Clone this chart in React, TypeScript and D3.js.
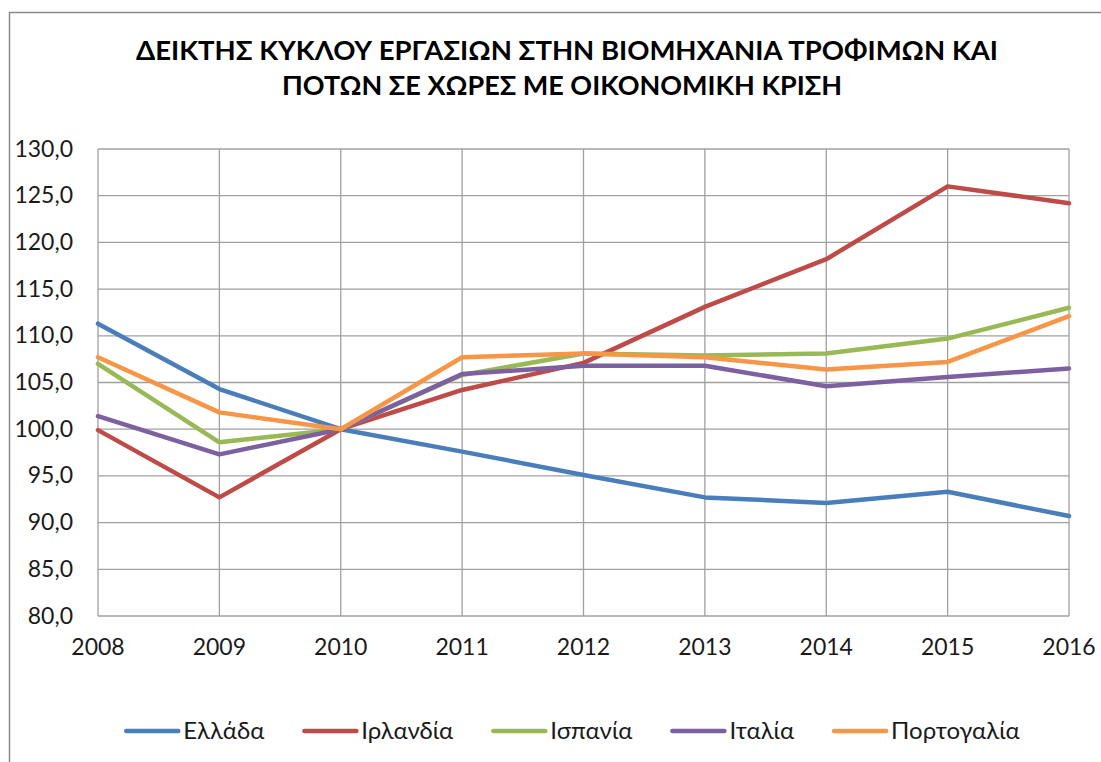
import React, { useEffect, useRef } from "react";
import * as d3 from "d3";

const years = ["2008", "2009", "2010", "2011", "2012", "2013", "2014", "2015", "2016"];
const countries = ["Ελλάδα", "Ιρλανδία", "Ισπανία", "Ιταλία", "Πορτογαλία"];
const greece = [111.3, 104.3, 100.0, 97.6, 95.1, 92.7, 92.1, 93.3, 90.7];
const ireland = [99.9, 92.7, 100.0, 104.2, 107.1, 113.1, 118.2, 126.0, 124.2];
const spain = [107.0, 98.6, 100.0, 105.8, 108.1, 107.9, 108.1, 109.7, 113.0];
const italy = [101.4, 97.3, 100.0, 105.9, 106.8, 106.8, 104.6, 105.6, 106.5];
const portugal = [107.7, 101.8, 100.0, 107.7, 108.1, 107.7, 106.4, 107.2, 112.1];
const yTicks = [80, 85, 90, 95, 100, 105, 110, 115, 120, 125, 130];
const colors = ["#4a7ebb", "#be4b48", "#98b954", "#7d60a0", "#f79646"];
const titleLines = [
  "ΔΕΙΚΤΗΣ ΚΥΚΛΟΥ ΕΡΓΑΣΙΩΝ ΣΤΗΝ ΒΙΟΜΗΧΑΝΙΑ ΤΡΟΦΙΜΩΝ ΚΑΙ",
  "ΠΟΤΩΝ ΣΕ ΧΩΡΕΣ ΜΕ ΟΙΚΟΝΟΜΙΚΗ ΚΡΙΣΗ",
];

const App = () => {
  const svgRef = useRef<SVGSVGElement>(null);

  useEffect(() => {
    const width = 1101;
    const height = 762;
    const margin = { top: 149, right: 32, bottom: 146, left: 98 };
    const font = "Lato, 'Open Sans', sans-serif";

    const svg = d3.select(svgRef.current)
      .attr("width", width)
      .attr("height", height);
    svg.selectAll("*").remove();

    // chart frame (runs off the right/bottom edge like the source screenshot)
    svg.append("rect")
      .attr("x", 9.5).attr("y", 12.5)
      .attr("width", 1200).attr("height", 900)
      .attr("fill", "white")
      .attr("stroke", "#8a8a8a")
      .attr("stroke-width", 1.5);

    // title
    const titleX = [567, 562];
    const titleW = [862, 560];
    const titleY = [60, 95];
    titleLines.forEach((t, i) => {
      svg.append("text")
        .attr("x", titleX[i]).attr("y", titleY[i])
        .attr("text-anchor", "middle")
        .attr("font-family", font)
        .attr("font-weight", "bold")
        .attr("font-size", 26)
        .attr("textLength", titleW[i])
        .attr("lengthAdjust", "spacingAndGlyphs")
        .attr("fill", "#000")
        .text(t);
    });

    const xScale = d3.scalePoint()
      .domain(years)
      .range([margin.left, width - margin.right]);

    const yScale = d3.scaleLinear()
      .domain([80, 130])
      .range([height - margin.bottom, margin.top]);

    // grid
    const grid = svg.append("g").attr("stroke", "#a0a0a0").attr("stroke-width", 1.3);
    grid.selectAll("line.h")
      .data(yTicks)
      .enter()
      .append("line")
      .attr("x1", margin.left).attr("x2", width - margin.right)
      .attr("y1", d => yScale(d)).attr("y2", d => yScale(d));
    grid.selectAll("line.v")
      .data(years)
      .enter()
      .append("line")
      .attr("x1", d => xScale(d)!).attr("x2", d => xScale(d)!)
      .attr("y1", yScale(130)).attr("y2", yScale(80));

    // axes labels
    svg.append("g")
      .selectAll("text")
      .data(yTicks)
      .enter()
      .append("text")
      .attr("x", 73)
      .attr("y", d => yScale(d) + 7.5)
      .attr("text-anchor", "end")
      .attr("font-family", font)
      .attr("font-size", 23)
      .attr("fill", "#1a1a1a")
      .text(d => d3.format(".1f")(d).replace(".", ","));

    svg.append("g")
      .selectAll("text")
      .data(years)
      .enter()
      .append("text")
      .attr("x", d => xScale(d)!)
      .attr("y", 655)
      .attr("text-anchor", "middle")
      .attr("font-family", font)
      .attr("font-size", 23)
      .attr("fill", "#1a1a1a")
      .text(d => d);

    // series
    const series = [greece, ireland, spain, italy, portugal];
    const line = d3.line<number>()
      .x((d, i) => xScale(years[i])!)
      .y(d => yScale(d));

    svg.append("g")
      .selectAll("path")
      .data(series)
      .enter()
      .append("path")
      .attr("d", d => line(d))
      .attr("fill", "none")
      .attr("stroke", (d, i) => colors[i])
      .attr("stroke-width", 4.5)
      .attr("stroke-linejoin", "round")
      .attr("stroke-linecap", "round");

    // legend
    const legend = svg.append("g");
    const symW = 52;
    const gapText = 5;
    const gapItem = 40;
    const items = countries.map((c, i) => {
      const g = legend.append("g");
      g.append("line")
        .attr("x1", 0).attr("x2", symW)
        .attr("y1", 731).attr("y2", 731)
        .attr("stroke", colors[i])
        .attr("stroke-width", 4.5)
        .attr("stroke-linecap", "round");
      const txt = g.append("text")
        .attr("x", symW + gapText)
        .attr("y", 739)
        .attr("font-family", font)
        .attr("font-size", 24)
        .attr("fill", "#1a1a1a")
        .text(c);
      const w = (txt.node() as SVGTextElement).getComputedTextLength();
      return { g, w: symW + gapText + w };
    });
    const total = d3.sum(items, d => d.w) + gapItem * (items.length - 1);
    let cx = 573 - total / 2;
    items.forEach(it => {
      it.g.attr("transform", `translate(${cx},0)`);
      cx += it.w + gapItem;
    });
  }, []);

  return (
    <svg ref={svgRef} style={{ position: "absolute", left: 0, top: 0, background: "white" }}></svg>
  );
};

export default App;
